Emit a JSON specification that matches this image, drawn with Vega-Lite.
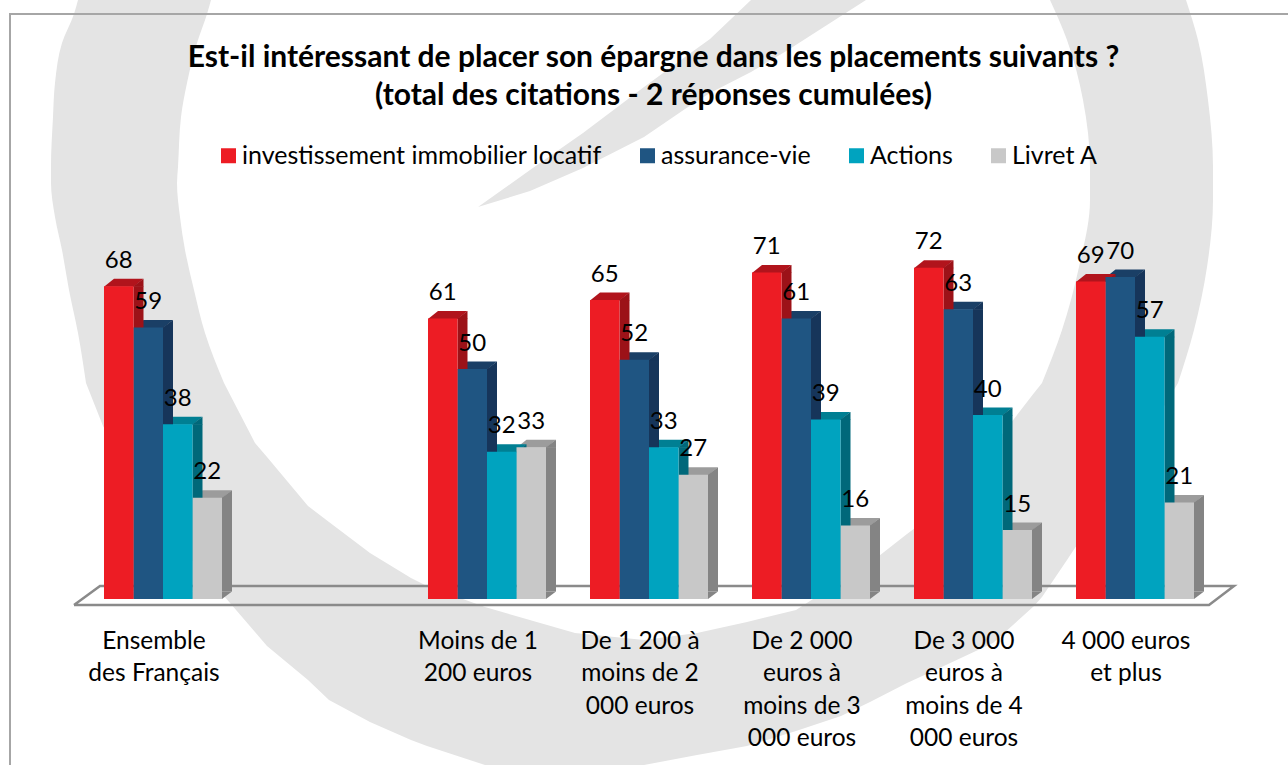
{"$schema":"https://vega.github.io/schema/vega-lite/v6.json","width":1288,"height":765,"autosize":{"type":"none"},"padding":0,"background":"white","config":{"view":{"stroke":null},"font":"Lato"},
"title":{"text":["Est-il intéressant de placer son épargne dans les placements suivants ?","(total des citations - 2 réponses cumulées)"],"anchor":"middle","frame":"group","font":"Lato","fontWeight":"bold","fontSize":30,"lineHeight":38,"color":"#000000","dy":111,"dx":9.5,"offset":0},
"datasets":{
"bars":[
{"categorie":"Ensemble des Français","serie":"Livret A","valeur":22},{"categorie":"Ensemble des Français","serie":"Actions","valeur":38},{"categorie":"Ensemble des Français","serie":"assurance-vie","valeur":59},{"categorie":"Ensemble des Français","serie":"investissement immobilier locatif","valeur":68},
{"categorie":"Moins de 1 200 euros","serie":"Livret A","valeur":33},{"categorie":"Moins de 1 200 euros","serie":"Actions","valeur":32},{"categorie":"Moins de 1 200 euros","serie":"assurance-vie","valeur":50},{"categorie":"Moins de 1 200 euros","serie":"investissement immobilier locatif","valeur":61},
{"categorie":"De 1 200 à moins de 2 000 euros","serie":"Livret A","valeur":27},{"categorie":"De 1 200 à moins de 2 000 euros","serie":"Actions","valeur":33},{"categorie":"De 1 200 à moins de 2 000 euros","serie":"assurance-vie","valeur":52},{"categorie":"De 1 200 à moins de 2 000 euros","serie":"investissement immobilier locatif","valeur":65},
{"categorie":"De 2 000 euros à moins de 3 000 euros","serie":"Livret A","valeur":16},{"categorie":"De 2 000 euros à moins de 3 000 euros","serie":"Actions","valeur":39},{"categorie":"De 2 000 euros à moins de 3 000 euros","serie":"assurance-vie","valeur":61},{"categorie":"De 2 000 euros à moins de 3 000 euros","serie":"investissement immobilier locatif","valeur":71},
{"categorie":"De 3 000 euros à moins de 4 000 euros","serie":"Livret A","valeur":15},{"categorie":"De 3 000 euros à moins de 4 000 euros","serie":"Actions","valeur":40},{"categorie":"De 3 000 euros à moins de 4 000 euros","serie":"assurance-vie","valeur":63},{"categorie":"De 3 000 euros à moins de 4 000 euros","serie":"investissement immobilier locatif","valeur":72},
{"categorie":"4 000 euros et plus","serie":"Livret A","valeur":21},{"categorie":"4 000 euros et plus","serie":"Actions","valeur":57},{"categorie":"4 000 euros et plus","serie":"assurance-vie","valeur":70},{"categorie":"4 000 euros et plus","serie":"investissement immobilier locatif","valeur":69}],
"crescent":[{"u":86,"a":383,"b":383},{"u":103,"a":383,"b":426},{"u":150,"a":383,"b":505},{"u":190,"a":383,"b":558},{"u":224,"a":383,"b":596},{"u":255,"a":443,"b":632},{"u":267,"a":457,"b":646},{"u":308,"a":506,"b":680},{"u":329,"a":522,"b":700},{"u":370,"a":553,"b":722},{"u":411,"a":578,"b":740},{"u":427,"a":586,"b":746},{"u":485,"a":607,"b":765},{"u":575,"a":633,"b":765},{"u":644,"a":640,"b":765},{"u":697,"a":633,"b":755},{"u":747,"a":622,"b":746},{"u":796,"a":610,"b":731},{"u":841,"a":581,"b":716},{"u":870,"a":563,"b":702},{"u":907,"a":534,"b":683},{"u":931,"a":516,"b":672},{"u":993,"a":446,"b":643},{"u":1034,"a":393,"b":606},{"u":1042,"a":383,"b":597},{"u":1067,"a":383,"b":560},{"u":1120,"a":383,"b":480},{"u":1178,"a":383,"b":383}],
"wedge":[{"u":478,"a":207,"b":207},{"u":530,"a":170,"b":191},{"u":583,"a":133,"b":168},{"u":644,"a":87,"b":137},{"u":685,"a":57,"b":109},{"u":710,"a":39,"b":93},{"u":751,"a":0,"b":72},{"u":788,"a":0,"b":50},{"u":866,"a":0,"b":0}],
"bands":[{"partie":"g","v":0,"c":78,"d":211},{"partie":"g","v":14,"c":74,"d":207},{"partie":"g","v":43,"c":62,"d":197},{"partie":"g","v":83,"c":55,"d":187},{"partie":"g","v":117,"c":53,"d":181},{"partie":"g","v":167,"c":51,"d":178},{"partie":"g","v":183,"c":51,"d":177},{"partie":"g","v":217,"c":55,"d":180},{"partie":"g","v":250,"c":62,"d":185},{"partie":"g","v":290,"c":69,"d":194},{"partie":"g","v":333,"c":78,"d":205},{"partie":"g","v":383,"c":86,"d":224},
{"partie":"d","v":0,"c":1050,"d":1186},{"partie":"d","v":40,"c":1067,"d":1198},{"partie":"d","v":100,"c":1083,"d":1208},{"partie":"d","v":167,"c":1090,"d":1213},{"partie":"d","v":200,"c":1090,"d":1213},{"partie":"d","v":267,"c":1079,"d":1207},{"partie":"d","v":330,"c":1062,"d":1194},{"partie":"d","v":383,"c":1042,"d":1178}],
"frame":[{"i":1,"u":1288,"v":14},{"i":2,"u":10,"v":14},{"i":3,"u":10,"v":765}],
"floor":[{"i":1,"u":74,"v":605},{"i":2,"u":100,"v":586},{"i":3,"u":1234,"v":586},{"i":4,"u":1209,"v":605},{"i":5,"u":74,"v":605}]
},
"resolve":{"scale":{"x":"independent","y":"independent","color":"independent","xOffset":"independent"}},
"layer":[
{"layer":[
{"data":{"name":"crescent"},"mark":{"type":"area","color":"#e4e4e4"},"encoding":{"x":{"field":"u","type":"quantitative","scale":{"domain":[0,1288],"range":[0,1288],"nice":false,"zero":false},"axis":null},"y":{"field":"a","type":"quantitative","scale":{"domain":[0,765],"range":[0,765],"nice":false,"zero":false},"axis":null},"y2":{"field":"b"}}},
{"data":{"name":"wedge"},"mark":{"type":"area","color":"#e4e4e4"},"encoding":{"x":{"field":"u","type":"quantitative","axis":null},"y":{"field":"a","type":"quantitative","axis":null},"y2":{"field":"b"}}},
{"data":{"name":"bands"},"mark":{"type":"area","orient":"horizontal","color":"#e4e4e4","interpolate":"monotone"},"encoding":{"y":{"field":"v","type":"quantitative","axis":null},"x":{"field":"c","type":"quantitative","axis":null},"x2":{"field":"d"},"detail":{"field":"partie"}}},
{"data":{"name":"frame"},"mark":{"type":"line","color":"#a6a6a6","strokeWidth":2},"encoding":{"x":{"field":"u","type":"quantitative","axis":null},"y":{"field":"v","type":"quantitative","axis":null},"order":{"field":"i"}}},
{"data":{"name":"floor"},"mark":{"type":"line","color":"#8a8a8a","strokeWidth":2.5},"encoding":{"x":{"field":"u","type":"quantitative","axis":null},"y":{"field":"v","type":"quantitative","axis":null},"order":{"field":"i"}}}
]},
{"data":{"name":"bars"},
"encoding":{
"x":{"field":"categorie","type":"nominal","sort":null,"title":null,"scale":{"domain":["Ensemble des Français"," ","Moins de 1 200 euros","De 1 200 à moins de 2 000 euros","De 2 000 euros à moins de 3 000 euros","De 3 000 euros à moins de 4 000 euros","4 000 euros et plus"],"range":[82,1216],"paddingInner":0.2716,"paddingOuter":0.1358},
"axis":{"zindex":1,"domain":false,"ticks":false,"grid":false,"labelAngle":0,"offset":-150,"labelPadding":14,"labelOffset":-9,"labelFont":"Lato","labelFontSize":24.5,"labelLineHeight":32.5,"labelColor":"#000000","labelLimit":300,"labelBaseline":"top",
"labelExpr":"({'Ensemble des Français':['Ensemble','des Français'],'Moins de 1 200 euros':['Moins de 1','200 euros'],'De 1 200 à moins de 2 000 euros':['De 1 200 à','moins de 2','000 euros'],'De 2 000 euros à moins de 3 000 euros':['De 2 000','euros à','moins de 3','000 euros'],'De 3 000 euros à moins de 4 000 euros':['De 3 000','euros à','moins de 4','000 euros'],'4 000 euros et plus':['4 000 euros','et plus']})[datum.label] || ''"}},
"y":{"field":"valeur","type":"quantitative","axis":null,"scale":{"domain":[0,100],"range":[599,139],"nice":false,"zero":true}}
},
"resolve":{"scale":{"color":"independent","xOffset":"independent"}},
"layer":[
{"mark":{"type":"point","filled":true,"opacity":1,"size":4,"shape":"M-14.75,0.5L14.75,0.5L24.75,-7.5L-4.75,-7.5Z"},"encoding":{"xOffset":{"field":"serie","type":"nominal","sort":null,"scale":{"type":"band","domain":["investissement immobilier locatif","assurance-vie","Actions","Livret A"],"range":[0,118],"paddingInner":0,"paddingOuter":0}},"color":{"field":"serie","type":"nominal","legend":null,"scale":{"domain":["investissement immobilier locatif","assurance-vie","Actions","Livret A"],"range":["#b1141c","#1a3f66","#007f93","#9c9c9c"]}}}},
{"mark":{"type":"bar","width":10,"y2Offset":-7.5},"encoding":{"xOffset":{"field":"serie","type":"nominal","sort":null,"scale":{"type":"band","domain":["investissement immobilier locatif","assurance-vie","Actions","Livret A"],"range":[19.75,137.75],"paddingInner":0,"paddingOuter":0}},"y2":{"datum":0},"color":{"field":"serie","type":"nominal","legend":null,"scale":{"domain":["investissement immobilier locatif","assurance-vie","Actions","Livret A"],"range":["#9c1218","#16355a","#00687a","#848484"]}}}},
{"mark":{"type":"point","filled":true,"opacity":1,"size":4,"shape":"M14.75,0L24.75,-7.5L24.75,0.5L14.75,0.5Z"},"encoding":{"xOffset":{"field":"serie","type":"nominal","sort":null,"scale":{"type":"band","domain":["investissement immobilier locatif","assurance-vie","Actions","Livret A"],"range":[0,118],"paddingInner":0,"paddingOuter":0}},"color":{"field":"serie","type":"nominal","legend":null,"scale":{"domain":["investissement immobilier locatif","assurance-vie","Actions","Livret A"],"range":["#9c1218","#16355a","#00687a","#848484"]}}}},
{"mark":{"type":"point","filled":true,"opacity":1,"size":4,"shape":"M14.75,0L24.75,-7.5L14.75,-7.5Z"},"encoding":{"xOffset":{"field":"serie","type":"nominal","sort":null,"scale":{"type":"band","domain":["investissement immobilier locatif","assurance-vie","Actions","Livret A"],"range":[0,118],"paddingInner":0,"paddingOuter":0}},"y":{"datum":0},"color":{"field":"serie","type":"nominal","legend":null,"scale":{"domain":["investissement immobilier locatif","assurance-vie","Actions","Livret A"],"range":["#9c1218","#16355a","#00687a","#848484"]}}}},
{"mark":{"type":"bar"},"encoding":{"xOffset":{"field":"serie","type":"nominal","sort":null,"scale":{"type":"band","domain":["investissement immobilier locatif","assurance-vie","Actions","Livret A"],"range":[0,118],"paddingInner":0,"paddingOuter":0}},"y2":{"datum":0},"color":{"field":"serie","type":"nominal","scale":{"domain":["investissement immobilier locatif","assurance-vie","Actions","Livret A"],"range":["#ed1c24","#1f5582","#00a3bf","#c8c8c8"]},
"legend":{"title":null,"orient":"none","legendX":216,"legendY":143,"direction":"horizontal","columns":4,"symbolType":"square","symbolSize":225,"symbolStrokeWidth":0,"labelFont":"Lato","labelFontSize":25,"labelColor":"#000000","labelOffset":1,"columnPadding":33,"labelLimit":500}}}},
{"mark":{"type":"text","font":"Lato","fontSize":24,"color":"#000000","baseline":"alphabetic","dy":-18.5},"encoding":{"xOffset":{"field":"serie","type":"nominal","sort":null,"scale":{"type":"band","domain":["investissement immobilier locatif","assurance-vie","Actions","Livret A"],"range":[0,118],"paddingInner":0,"paddingOuter":0}},"text":{"field":"valeur","type":"quantitative"}}}
]}
]}
